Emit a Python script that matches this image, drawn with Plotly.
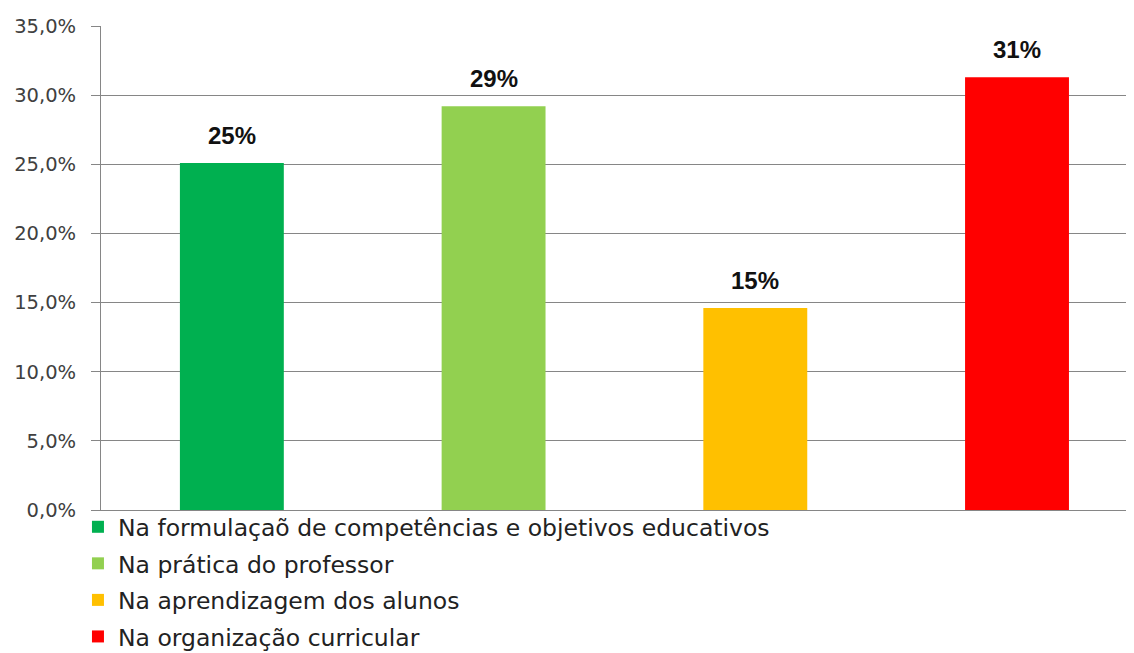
import plotly.graph_objects as go

categories = [
    "Na formulaçaõ de competências e objetivos educativos",
    "Na prática do professor",
    "Na aprendizagem dos alunos",
    "Na organização curricular",
]
values = [25.1, 29.2, 14.6, 31.3]
colors = ["#00B050", "#92D050", "#FFC000", "#FF0000"]
x_positions = ["c1", "c2", "c3", "c4"]

fig = go.Figure()
for i, (cat, val, col) in enumerate(zip(categories, values, colors)):
    fig.add_trace(go.Bar(
        x=[x_positions[i]], y=[val], name=cat,
        marker=dict(color=col, line=dict(width=0)),
        width=0.397,
        legendgroup=f"g{i}",
    ))
    fig.add_annotation(
        x=x_positions[i], y=val, text=f"<b>{val:.0f}%</b>",
        showarrow=False, yanchor="bottom", yshift=12,
        font=dict(family="Liberation Sans", size=24, color="#111111"),
    )

fig.update_layout(
    width=1126, height=652,
    margin=dict(l=93, r=0, t=18, b=150, pad=0),
    paper_bgcolor="white", plot_bgcolor="white",
    barmode="overlay",
    separators=",.",
    showlegend=True,
    legend=dict(
        x=-0.0223, xanchor="left", y=0.0103, yanchor="top",
        orientation="v",
        font=dict(family="DejaVu Sans", size=23.5, color="#222222"),
        tracegroupgap=3,
        itemclick=False, bgcolor="rgba(0,0,0,0)",
    ),
    xaxis=dict(
        type="category", range=[-0.5, 3.447], showticklabels=False,
        showline=True, linecolor="#868686", linewidth=1,
        showgrid=False, ticks="", zeroline=False, fixedrange=True,
    ),
    yaxis=dict(
        range=[0, 35], dtick=5, tickformat=".1f", ticksuffix="%",
        showline=True, linecolor="#868686", linewidth=1,
        showgrid=True, gridcolor="#868686", gridwidth=1,
        ticks="outside", ticklen=9, tickcolor="#868686",
        ticklabelstandoff=11,
        tickfont=dict(family="DejaVu Sans", size=19.5, color="#404040"),
        zeroline=False,
    ),
)

fig.write_html("out.html")
